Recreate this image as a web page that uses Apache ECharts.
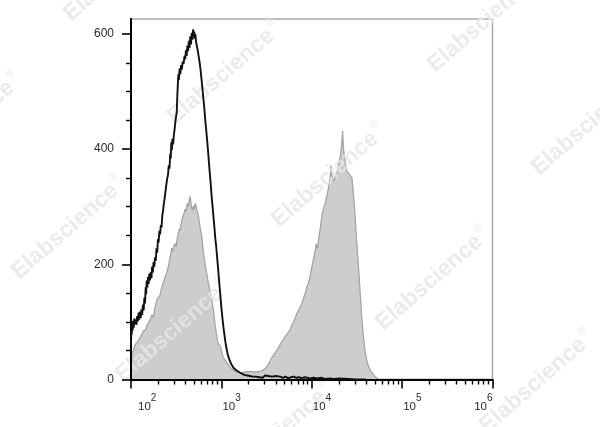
<!DOCTYPE html>
<html>
<head>
<meta charset="utf-8">
<script src="https://cdn.jsdelivr.net/npm/echarts@6/dist/echarts.min.js"></script>
<style>
html,body{margin:0;padding:0;background:#fff;}
#chart{width:600px;height:427px;}
</style>
</head>
<body>
<div id="chart"></div>
<script>
// x values are log10 of fluorescence intensity, y values are event counts
var blackLogX = [2.000,2.004,2.008,2.013,2.018,2.024,2.030,2.037,2.044,2.052,2.060,2.068,2.076,2.084,2.092,2.100,2.108,2.116,2.124,2.132,2.140,2.148,2.155,2.162,2.168,2.174,2.181,2.188,2.195,2.203,2.210,2.218,2.226,2.234,2.242,2.250,2.258,2.266,2.274,2.282,2.290,2.298,2.306,2.314,2.322,2.330,2.338,2.346,2.354,2.362,2.370,2.378,2.386,2.394,2.402,2.410,2.418,2.426,2.434,2.440,2.446,2.452,2.458,2.466,2.474,2.482,2.490,2.498,2.506,2.512,2.518,2.524,2.530,2.538,2.546,2.554,2.562,2.572,2.582,2.592,2.600,2.608,2.616,2.624,2.632,2.640,2.648,2.656,2.664,2.672,2.680,2.688,2.694,2.700,2.706,2.712,2.720,2.728,2.738,2.748,2.758,2.768,2.778,2.790,2.801,2.812,2.822,2.832,2.842,2.852,2.862,2.872,2.882,2.892,2.902,2.912,2.922,2.932,2.942,2.952,2.962,2.972,2.982,2.992,3.002,3.012,3.022,3.032,3.042,3.052,3.062,3.072,3.082,3.092,3.102,3.112,3.124,3.136,3.150,3.165,3.180,3.195,3.210,3.225,3.240,3.255,3.270,3.285,3.300,3.315,3.330,3.345,3.360,3.380,3.400,3.420,3.440,3.460,3.480,3.500,3.520,3.540,3.560,3.580,3.600,3.620,3.650,3.680,3.710,3.740,3.770,3.800,3.830,3.860,3.890,3.920,3.950,3.980,4.020,4.060,4.100,4.150,4.200,4.250,4.300,4.400,4.500,4.600];
var blackCount = [60,95,78,102,85,100,90,106,96,104,95,110,101,116,104,118,107,122,112,130,120,142,132,160,148,172,160,178,166,184,172,186,176,196,186,204,196,212,206,228,220,244,238,258,252,268,264,284,292,304,312,322,332,342,350,356,372,366,392,384,412,398,418,408,424,434,446,456,464,490,512,530,520,540,530,546,538,552,548,562,556,572,562,580,570,588,576,596,582,602,590,608,596,604,592,600,586,584,572,562,552,540,525,505,488,470,450,434,416,398,378,358,340,318,302,283,266,246,232,214,196,176,158,140,122,106,92,80,68,58,50,42,38,33,30,26,28,20,22,16,18,13,15,10,12,8,11,7,10,6,9,5,8,5,7,4,6,3,7,4,6,3,5,4,6,3,5,3,5,2,4,5,3,4,2,4,3,2,3,2,3,1,2,1,2,1,0,0];

var grayLogX = [2.000,2.010,2.025,2.045,2.060,2.081,2.100,2.120,2.136,2.160,2.174,2.190,2.211,2.230,2.247,2.266,2.290,2.321,2.340,2.360,2.377,2.396,2.410,2.425,2.440,2.451,2.462,2.475,2.488,2.500,2.512,2.524,2.535,2.543,2.555,2.568,2.580,2.590,2.598,2.610,2.622,2.635,2.645,2.655,2.662,2.672,2.682,2.692,2.702,2.712,2.722,2.732,2.746,2.765,2.783,2.800,2.820,2.840,2.857,2.885,2.912,2.930,2.950,2.965,2.978,2.992,3.005,3.023,3.050,3.078,3.105,3.134,3.170,3.208,3.260,3.319,3.380,3.429,3.460,3.485,3.510,3.530,3.550,3.575,3.595,3.614,3.640,3.655,3.670,3.700,3.715,3.740,3.760,3.781,3.800,3.820,3.836,3.855,3.875,3.891,3.910,3.928,3.945,3.965,3.985,4.002,4.020,4.039,4.050,4.065,4.080,4.095,4.113,4.130,4.150,4.165,4.178,4.192,4.205,4.213,4.225,4.242,4.260,4.279,4.295,4.305,4.316,4.330,4.341,4.352,4.371,4.390,4.408,4.425,4.445,4.465,4.482,4.500,4.519,4.538,4.556,4.575,4.593,4.620,4.648,4.685,4.737,6.000];
var grayCount = [30,45,50,60,63,68,66,78,84,86,92,98,103,112,108,126,140,146,160,170,178,186,194,205,218,228,222,232,236,230,245,254,262,258,270,280,277,290,296,292,306,300,312,318,308,298,294,302,296,306,300,292,284,264,248,222,200,182,167,145,121,95,74,62,64,57,46,38,32,25,20,16,13,11,13,14,13,14,16,19,24,30,36,42,46,51,58,55,66,73,70,82,86,95,100,108,115,120,127,132,142,150,160,168,182,196,210,225,236,228,250,262,286,297,306,318,326,340,352,372,352,344,352,358,370,380,388,405,432,400,376,362,358,356,350,315,277,232,190,145,103,70,45,26,16,8,0,0];

var xTickExponents = [2, 3, 4, 5, 6];
var xMinorTickValues = [200,300,400,500,600,700,800,900,2000,3000,4000,5000,6000,7000,8000,9000,20000,30000,40000,50000,60000,70000,80000,90000,200000,300000,400000,500000,600000,700000,800000,900000];
var yTickValues = [0, 200, 400, 600];
var yMinorTickValues = [50, 100, 150, 250, 300, 350, 450, 500, 550];
var watermarkWord = 'Elabscience';
var watermarkMark = '®';
var watermarkCenters = [[120,-31],[224,72],[328,175],[432,278],[536,381],[-36,124],[68,227],[172,330],[276,433],[484,20],[588,123]];

function pairs(xs, ys){ var out=[]; var n=Math.min(xs.length, ys.length); for(var i=0;i<n;i++){ out.push([xs[i], ys[i]]); } return out; }

var FONT = 'Liberation Sans, Arial, Helvetica, sans-serif';
var richStyle = {
  first: {width: 7, lineHeight: 20, fontSize: 11},
  mid: {width: 1, lineHeight: 20, fontSize: 11},
  b: {fontSize: 11.5, lineHeight: 14, verticalAlign: 'bottom', color: '#2a2a2a', fontFamily: FONT},
  s: {fontSize: 10, lineHeight: 10, verticalAlign: 'top', color: '#2a2a2a', fontFamily: FONT}
};
function xLabel(v){
  var e = String(Math.round(v));
  var pad = (Math.abs(v - xTickExponents[0]) < 1e-9) ? 'first' : 'mid';
  return '{' + pad + '| }{b|10}{s|' + e + '}';
}

var chart = echarts.init(document.getElementById('chart'), null, {renderer: 'canvas'});

var WM_FILL = 'rgba(230,230,230,0.8)';
var graphics = watermarkCenters.map(function(c){
  return {
    type: 'text', x: c[0], y: c[1], rotation: 41 * Math.PI / 180, z: 50, silent: true,
    style: {
      text: '{w|' + watermarkWord + '}{r|' + watermarkMark + '}',
      align: 'center', verticalAlign: 'middle',
      rich: {
        w: {fontSize: 23, fontWeight: 'bold', fontFamily: FONT, fill: WM_FILL, color: WM_FILL, lineHeight: 26, verticalAlign: 'bottom'},
        r: {fontSize: 11, fontFamily: FONT, fill: WM_FILL, color: WM_FILL, lineHeight: 12, verticalAlign: 'top', padding: [0, 0, 0, 2]}
      }
    }
  };
});

var option = {
  animation: false,
  backgroundColor: '#ffffff',
  grid: {left: 131, right: 107.5, top: 19, bottom: 47.5, show: true, borderColor: '#a9a9a9', borderWidth: 1.5, backgroundColor: 'transparent', outerBoundsMode: 'none'},
  graphic: {elements: graphics},
  xAxis: [
    {
      type: 'value', min: 2, max: 6, interval: 1, position: 'bottom', z: 60,
      axisLine: {show: true, lineStyle: {color: '#000', width: 2}},
      axisTick: {show: true, length: 9, lineStyle: {color: '#000', width: 1.6}, customValues: xTickExponents},
      axisLabel: {show: true, customValues: xTickExponents.slice(0, 4), align: 'left', margin: 13.5, formatter: xLabel, rich: richStyle},
      splitLine: {show: false}
    },
    {
      type: 'value', min: 2, max: 6, interval: 1, position: 'bottom', z: 60,
      axisLine: {show: true, lineStyle: {color: '#000', width: 2}},
      axisTick: {show: true, length: 5, lineStyle: {color: '#000', width: 1.4}, customValues: xMinorTickValues.map(function(v){ return Math.log10(v); })},
      axisLabel: {show: true, customValues: xTickExponents.slice(4), align: 'right', margin: 13.5, formatter: xLabel, rich: richStyle},
      splitLine: {show: false}
    }
  ],
  yAxis: [
    {
      type: 'value', min: 0, max: 626, position: 'left', z: 60,
      axisLine: {show: true, lineStyle: {color: '#000', width: 2}},
      axisTick: {show: true, length: 9, lineStyle: {color: '#000', width: 1.6}, customValues: yTickValues},
      axisLabel: {show: true, customValues: yTickValues, margin: 17, fontSize: 12, color: '#2a2a2a', fontFamily: FONT},
      splitLine: {show: false}
    },
    {
      type: 'value', min: 0, max: 626, position: 'left', z: 60,
      axisLine: {show: true, lineStyle: {color: '#000', width: 2}},
      axisTick: {show: true, length: 5, lineStyle: {color: '#000', width: 1.4}, customValues: yMinorTickValues},
      axisLabel: {show: false},
      splitLine: {show: false}
    }
  ],
  series: [
    {
      name: 'Isotype', type: 'line', xAxisIndex: 0, yAxisIndex: 0, z: 10,
      data: pairs(grayLogX, grayCount), showSymbol: false, symbol: 'none', smooth: false,
      lineStyle: {color: '#a5a5a5', width: 1.3},
      areaStyle: {color: '#cdcdcd', opacity: 1}
    },
    {
      name: 'Sample', type: 'line', xAxisIndex: 0, yAxisIndex: 0, z: 100,
      data: pairs(blackLogX, blackCount), showSymbol: false, symbol: 'none', smooth: false,
      lineStyle: {color: '#111111', width: 1.9}
    }
  ]
};
chart.setOption(option);
</script>
</body>
</html>
